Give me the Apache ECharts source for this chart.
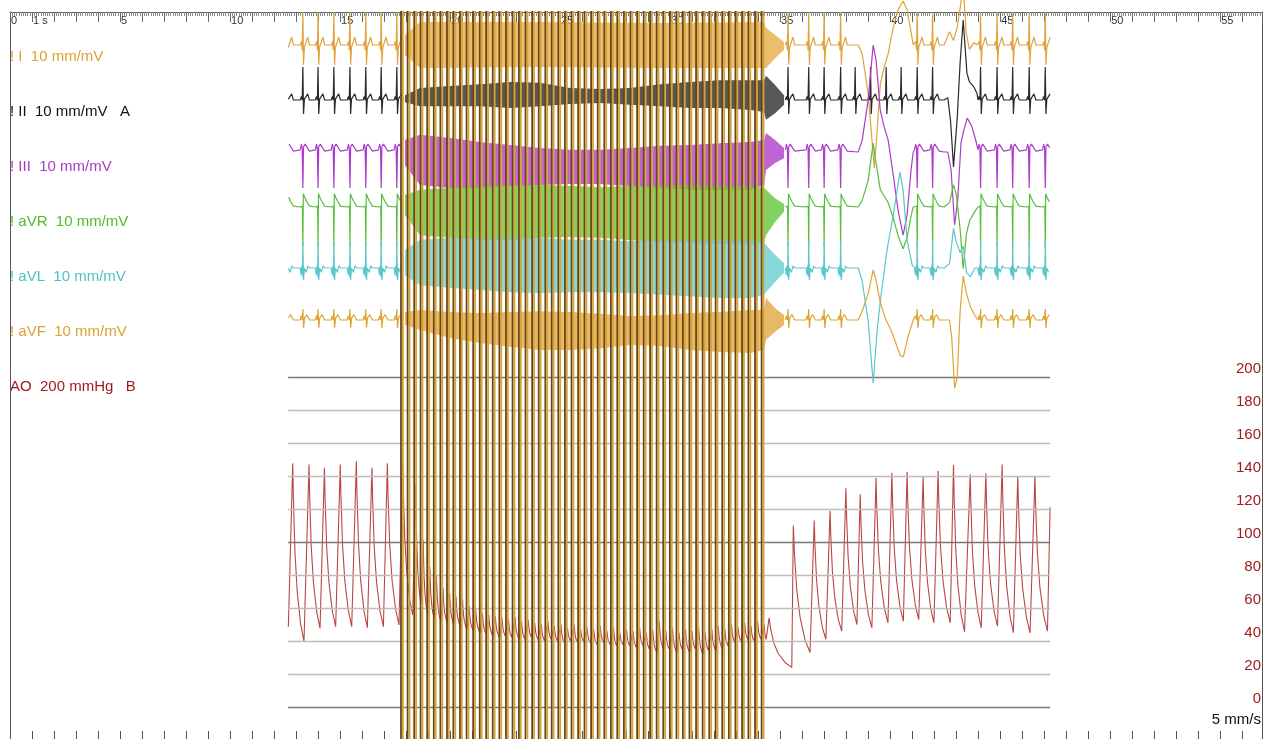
<!DOCTYPE html>
<html><head><meta charset="utf-8"><title>ECG + AO</title>
<script src="https://cdn.jsdelivr.net/npm/echarts@6/dist/echarts.min.js"></script>
<style>html,body{margin:0;padding:0;background:#fff;}#chart{width:1270px;height:739px;}</style>
</head><body><div id="chart"></div>
<script>
// ================= DATA =================
const recStart = 12.64, recEnd = 47.27;          // recorded span (s)
const timeTicks = [0, 1, 5, 10, 15, 20, 25, 30, 35, 40, 45, 50, 55];
const timeTickText = ['0', '1 s', '5', '10', '15', '20', '25', '30', '35', '40', '45', '50', '55'];
const aoTicks = [0, 20, 40, 60, 80, 100, 120, 140, 160, 180, 200];
const aoMajorTicks = [0, 100, 200];
const leadLabels = ['! I  10 mm/mV', '! II  10 mm/mV   A', '! III  10 mm/mV', '! aVR  10 mm/mV', '! aVL  10 mm/mV', '! aVF  10 mm/mV'];
const aoLabel = 'AO  200 mmHg   B';
const speedLabel = '5 mm/s';

// QRS times (s)
const beatsPre = [12.58, 13.31, 14.00, 14.72, 15.45, 16.17, 16.87, 17.58];
const beatsPost = [35.36, 36.30, 37.00, 37.75, 38.41, 39.11, 39.82, 40.50, 41.23, 41.93, 42.61, 43.36, 44.11, 44.86, 45.57, 46.32, 47.05];

// pacing stimulus times (s)
const pacingSpikes = [17.77, 18.07, 18.37, 18.66, 18.96, 19.26, 19.56, 19.86, 20.15, 20.45, 20.75, 21.05, 21.35, 21.64,
  21.94, 22.24, 22.54, 22.84, 23.13, 23.43, 23.73, 24.03, 24.33, 24.62, 24.92, 25.22, 25.52, 25.82, 26.11, 26.41, 26.71,
  27.01, 27.31, 27.60, 27.90, 28.20, 28.50, 28.80, 29.09, 29.39, 29.69, 29.99, 30.29, 30.58, 30.88, 31.18, 31.48, 31.78,
  32.07, 32.37, 32.67, 32.97, 33.27, 33.56, 33.86, 34.16];

// beat templates [dt (s) from QRS, mV]
const tplI   = [[-0.12,0],[-0.06,0.08],[-0.03,-0.12],[0,0.75],[0.03,-0.45],[0.07,-0.05],[0.14,0.05],[0.22,0.18],[0.3,0]];
const tplII  = [[-0.12,0],[-0.07,0.08],[-0.03,0],[0,0.75],[0.03,-0.32],[0.07,0.02],[0.15,0.06],[0.22,0.14],[0.3,0]];
const tplIII = [[-0.12,0.05],[-0.07,0.18],[-0.03,0.08],[0,-0.82],[0.03,0.12],[0.1,0.18],[0.2,0.1],[0.3,0.02]];
const tplAVR = [[-0.12,0],[-0.02,0.02],[0,-0.9],[0.02,0.3],[0.08,0.22],[0.18,0.12],[0.3,0.02]];
const tplAVL = [[-0.12,0],[-0.08,-0.15],[-0.05,0.05],[-0.02,-0.2],[0,0.6],[0.03,-0.28],[0.07,0],[0.15,-0.1],[0.23,0.05],[0.3,0]];
const tplAVF = [[-0.12,0],[-0.07,0.1],[-0.03,0],[0,0.25],[0.03,-0.18],[0.08,0.05],[0.18,0.12],[0.3,0]];

// artefact events [t, mV]
const evAI   = [[38.55,0],[38.73,-0.2],[39.0,-1.1],[39.28,-2.8],[39.4,-2.0],[39.55,-0.9],[39.73,-0.5],[39.91,-0.2],[40.14,0.4],[40.36,0.8],[40.59,1.0],[40.77,0.8],[40.95,0.3],[41.05,0]];
const evBI   = [[42.45,0],[42.7,0.3],[42.88,0.1],[43.05,0.4],[43.2,0.9],[43.32,1.4],[43.45,0.3],[43.6,-0.1],[43.8,0.05],[43.95,0]];
const evAII  = [];
const evBII  = [[42.45,0],[42.62,0.05],[42.75,-0.5],[42.88,-1.52],[43.05,-0.4],[43.18,0.84],[43.32,1.82],[43.49,0.61],[43.6,0.42],[43.8,0.3],[43.95,0.15]];
const evAIII = [[38.55,0],[38.73,0.27],[39.0,1.18],[39.23,2.43],[39.36,2.09],[39.55,0.95],[39.73,0.57],[39.91,0.27],[40.14,-0.52],[40.36,-1.32],[40.59,-1.89],[40.77,-1.43],[40.95,-0.41],[41.05,0]];
const evBIII = [[42.45,0],[42.62,0],[42.77,-0.41],[42.93,-1.66],[43.07,-1.1],[43.22,0.2],[43.35,0.5],[43.5,0.77],[43.7,0.6],[43.9,0.25]];
const evAAVR = [[38.55,0],[38.73,0.15],[39.0,0.6],[39.23,1.45],[39.36,1.0],[39.55,0.4],[39.73,0.25],[39.91,0.1],[40.14,-0.25],[40.36,-0.65],[40.59,-0.95],[40.77,-0.7],[40.95,-0.2],[41.05,0]];
const evBAVR = [[42.45,0],[42.7,0.1],[42.88,0.5],[43.0,0.3],[43.18,-0.5],[43.32,-1.4],[43.47,-0.6],[43.62,-0.3],[43.85,-0.1]];
const evAAVL = [[38.55,0],[38.73,-0.3],[39.0,-1.2],[39.23,-2.61],[39.41,-1.41],[39.59,-0.61],[39.86,0.41],[40.14,1.2],[40.45,2.18],[40.59,1.77],[40.77,0.64],[41.0,0.07]];
const evBAVL = [[42.45,0],[42.7,0.1],[42.88,0.9],[43.0,0.6],[43.18,0.35],[43.32,0.5],[43.47,-0.1],[43.65,-0.2],[43.85,0]];
const evAAVF = [[38.55,0],[38.73,0.2],[39.0,0.6],[39.23,1.14],[39.36,0.9],[39.55,0.4],[39.77,0.05],[40.1,-0.3],[40.45,-0.8],[40.6,-0.84],[40.8,-0.4],[41.05,0]];
const evBAVF = [[42.45,0],[42.7,0],[42.8,-0.4],[42.93,-1.55],[43.05,-1.3],[43.18,0.2],[43.32,1.0],[43.47,0.6],[43.65,0.3],[43.85,0.1]];

// envelope of ECG during pacing and its decay [t, low mV, high mV]
const bandI   = [[17.95,-0.23,0.23],[18.64,-0.52,0.52],[24.09,-0.5,0.52],[29.55,-0.52,0.5],[34.27,-0.52,0.52],[34.36,-0.52,0.39],[34.77,-0.30,0.23],[35.18,-0.11,0.07]];
const bandII  = [[17.95,-0.05,0.11],[18.64,-0.14,0.27],[20.00,-0.14,0.32],[21.36,-0.14,0.36],[22.73,-0.18,0.41],[24.09,-0.14,0.39],[25.45,-0.09,0.27],[26.82,-0.07,0.25],[28.18,-0.11,0.27],[29.55,-0.14,0.36],[30.91,-0.18,0.41],[32.27,-0.18,0.45],[33.64,-0.23,0.45],[34.27,-0.27,0.45],[34.36,-0.45,0.55],[34.77,-0.30,0.34],[35.18,-0.11,0.11]];
const bandIII = [[17.95,-0.30,0.27],[18.64,-0.75,0.39],[20.00,-0.82,0.32],[21.36,-0.82,0.23],[22.73,-0.77,0.16],[24.09,-0.75,0.09],[25.45,-0.73,0.05],[26.82,-0.73,0.05],[28.18,-0.77,0.09],[29.55,-0.82,0.14],[30.91,-0.86,0.16],[32.27,-0.86,0.20],[33.64,-0.86,0.23],[34.27,-0.75,0.27],[34.36,-0.41,0.43],[34.77,-0.25,0.27],[35.18,-0.14,0.09]];
const bandAVR = [[17.95,-0.18,0.27],[18.64,-0.64,0.39],[20.00,-0.70,0.43],[21.36,-0.75,0.48],[22.73,-0.75,0.50],[24.09,-0.70,0.50],[25.45,-0.68,0.48],[26.82,-0.70,0.45],[28.18,-0.75,0.48],[29.55,-0.80,0.50],[30.91,-0.82,0.50],[32.27,-0.84,0.48],[33.64,-0.86,0.48],[34.27,-0.80,0.43],[34.36,-0.64,0.39],[34.77,-0.34,0.20],[35.18,-0.11,0.07]];
const bandAVL = [[17.95,-0.16,0.41],[18.64,-0.39,0.64],[20.00,-0.45,0.68],[21.36,-0.50,0.68],[22.73,-0.55,0.70],[24.09,-0.57,0.68],[25.45,-0.55,0.64],[26.82,-0.55,0.64],[28.18,-0.57,0.61],[29.55,-0.61,0.64],[30.91,-0.64,0.64],[32.27,-0.68,0.64],[33.64,-0.68,0.64],[34.27,-0.61,0.59],[34.36,-0.55,0.52],[34.77,-0.32,0.30],[35.18,-0.11,0.11]];
const bandAVF = [[17.95,-0.11,0.18],[18.64,-0.23,0.23],[20.00,-0.41,0.18],[21.36,-0.52,0.16],[22.73,-0.61,0.18],[24.09,-0.68,0.20],[25.45,-0.68,0.18],[26.82,-0.64,0.14],[28.18,-0.57,0.09],[29.55,-0.59,0.11],[30.91,-0.68,0.16],[32.27,-0.73,0.18],[33.64,-0.75,0.23],[34.27,-0.68,0.23],[34.36,-0.45,0.50],[34.77,-0.27,0.27],[35.18,-0.11,0.11]];

// aortic pressure beats [foot t, foot mmHg, peak t, peak mmHg]
const aoPre = [[12.65,48.7,12.85,147.7],[13.36,39.6,13.59,147],[14.09,47.6,14.29,145],[14.80,48.7,15.01,147],
  [15.53,48.7,15.74,149],[16.24,48,16.45,145],[16.97,48.7,17.15,147.7],[17.68,49.7,17.85,149],[18.30,55.8,18.44,134.5]];
const pacedAoPeak = [null,null,null,101,85,80,72,69,67,65,61,59,57,56,55,54,53,54,52,53,51,50,52,49,50,48,50,47,48,47,49,46,48,
  45,47,46,48,45,47,52,46,48,45,47,46,48,45,47,49,47,50,48,51,49,52,50];
const pacedAoFoot = [null,null,null,62,56,54,52,51,50,49,47,46,45,44,43,42,42,41,41,40,41,40,39,40,39,38,39,38,39,38,37,38,37,
  36,37,36,35,36,34,33,35,34,33,34,33,34,32,33,34,35,36,38,39,40,39,40];
const aoTransition = [[34.40,40,34.50,54]];
const aoPost = [[35.53,24,35.60,110],[36.36,33,36.55,113],[37.08,41,37.27,119],[37.80,46,37.99,132.5],[38.49,50,38.64,129],
  [39.17,48,39.36,139],[39.90,51,40.08,142],[40.60,52,40.77,142.4],[41.30,53,41.50,139.6],[41.99,51,42.18,143],
  [42.73,51,42.88,146.7],[43.38,45.6,43.64,141],[44.14,48,44.35,141.6],[44.88,49,45.09,147],[45.60,45,45.80,140],
  [46.36,45,46.58,140],[47.15,46,47.27,121]];
// shape of the pressure run-off [fraction of time to next foot, fraction of pulse left]
const aoDecayShape = [[0.06,0.8],[0.2,0.5],[0.4,0.28],[0.7,0.1]];

// ================= BUILD =================
const X_MAX = 56.9;
const leads = [
  {tpl: tplI,   ev: [evAI, evBI],     band: bandI,   base: 45,  color: '#E0A33A', bandColor: '#E6AE4A', label: '#DDA032'},
  {tpl: tplII,  ev: [evAII, evBII],   band: bandII,  base: 100, color: '#2a2a2a', bandColor: '#2e2e2e', label: '#111111'},
  {tpl: tplIII, ev: [evAIII, evBIII], band: bandIII, base: 152, color: '#AE3CCB', bandColor: '#B03CCB', label: '#A63CC6'},
  {tpl: tplAVR, ev: [evAAVR, evBAVR], band: bandAVR, base: 207, color: '#58BE38', bandColor: '#62C63C', label: '#4FBC2E'},
  {tpl: tplAVL, ev: [evAAVL, evBAVL], band: bandAVL, base: 268, color: '#5EC6CA', bandColor: '#6ACDD0', label: '#4EC0C2'},
  {tpl: tplAVF, ev: [evAAVF, evBAVF], band: bandAVF, base: 320, color: '#E0A33A', bandColor: '#E3A63E', label: '#DDA032'}
];
const labelY = [55, 110, 165, 220, 275, 330];

function buildTrace(tpl, events) {
  const evs = events.filter(e => e.length);
  const wins = evs.map(e => [e[0][0], e[e.length - 1][0]]);
  const seg = beats => {
    const pts = [];
    beats.forEach(b => {
      const s = b + tpl[0][0], e = b + tpl[tpl.length - 1][0];
      if (wins.some(w => e > w[0] && s < w[1])) return;
      tpl.forEach(p => pts.push([b + p[0], p[1]]));
    });
    return pts;
  };
  const pre = seg(beatsPre), post = seg(beatsPost);
  evs.forEach(e => e.forEach(p => post.push(p)));
  post.sort((a, b) => a[0] - b[0]);
  const inRange = p => p[0] >= recStart && p[0] <= recEnd;
  return pre.filter(inRange).concat([[26, null]], post.filter(inRange));
}

function buildAO() {
  const paced = [];
  pacingSpikes.forEach((t, i) => {
    if (pacedAoPeak[i] != null) paced.push([t + 0.02, pacedAoFoot[i], t + 0.12, pacedAoPeak[i]]);
  });
  const all = aoPre.concat(paced, aoTransition, aoPost);
  const pts = [];
  all.forEach((b, k) => {
    pts.push([b[0], b[1]], [b[2], b[3]]);
    const nx = all[k + 1];
    if (nx) aoDecayShape.forEach(s => pts.push([b[2] + s[0] * (nx[0] - b[2]), nx[1] + s[1] * (b[3] - nx[1])]));
  });
  return pts;
}

const FONT = '"Liberation Sans", Arial, sans-serif';
const grids = [], xAxes = [], yAxes = [], series = [];
const hiddenX = gi => ({gridIndex: gi, type: 'value', min: 0, max: X_MAX, show: false});

// grid 0 : frame, time axes, pacing spikes
grids.push({left: 10, right: 8, top: 12, bottom: 0, containLabel: false});
xAxes.push({
  gridIndex: 0, type: 'value', position: 'top', min: 0, max: X_MAX, interval: 1,
  axisLine: {show: true, onZero: false, lineStyle: {color: '#555', width: 1}},
  axisTick: {show: true, inside: true, length: 10, lineStyle: {color: '#666'}},
  minorTick: {show: true, splitNumber: 10, length: 4, lineStyle: {color: '#888'}},
  splitLine: {show: false},
  axisLabel: {
    show: true, inside: true, margin: 3, align: 'left', padding: [0, 0, 0, 1],
    color: '#333', fontSize: 11, fontFamily: FONT,
    formatter: v => { const i = timeTicks.indexOf(v); return i >= 0 ? timeTickText[i] : ''; }
  }
});
xAxes.push({
  gridIndex: 0, type: 'value', position: 'bottom', min: 0, max: X_MAX, interval: 1,
  axisLine: {show: false, onZero: false},
  axisTick: {show: true, inside: true, length: 8, lineStyle: {color: '#555'}},
  axisLabel: {show: false}, splitLine: {show: false}
});
yAxes.push({gridIndex: 0, type: 'value', min: 0, max: 1, position: 'left',
  axisLine: {show: true, onZero: false, lineStyle: {color: '#555'}}, axisTick: {show: false}, axisLabel: {show: false}, splitLine: {show: false}});
yAxes.push({gridIndex: 0, type: 'value', min: 0, max: 1, position: 'right',
  axisLine: {show: true, onZero: false, lineStyle: {color: '#555'}}, axisTick: {show: false}, axisLabel: {show: false}, splitLine: {show: false}});

// grid 1 : aortic pressure
grids.push({left: 10, right: 8, top: 377, height: 330});
xAxes.push(hiddenX(1));
yAxes.push({gridIndex: 1, type: 'value', min: 0, max: 200, interval: 20, position: 'right',
  axisLine: {show: false}, axisTick: {show: false}, splitLine: {show: false},
  axisLabel: {show: true, inside: true, margin: 1, color: '#A01C1C', fontSize: 15, fontFamily: FONT, verticalAlign: 'bottom', lineHeight: 16}});

// grids 2..7 : ECG leads
leads.forEach((ld, i) => {
  grids.push({left: 10, right: 8, top: ld.base - 44, height: 88});
  xAxes.push(hiddenX(2 + i));
  yAxes.push({gridIndex: 2 + i, type: 'value', min: -1, max: 1, show: false});
});

// AO gridlines + trace
series.push({
  type: 'line', xAxisIndex: 2, yAxisIndex: 2, data: buildAO(), showSymbol: false, symbol: 'none',
  lineStyle: {color: '#BA4644', width: 1.1}, silent: true, animation: false, z: 3, clip: false,
  markLine: {
    silent: true, symbol: ['none', 'none'], label: {show: false}, animation: false,
    data: aoTicks.map(v => [
      {coord: [recStart, v], lineStyle: {color: aoMajorTicks.includes(v) ? '#777' : '#bdbdbd', width: 1.3, type: 'solid'}},
      {coord: [recEnd, v]}
    ])
  }
});

// ECG bands (custom polygons through the axes)
leads.forEach((ld, i) => {
  const band = ld.band;
  series.push({
    type: 'custom', xAxisIndex: 3 + i, yAxisIndex: 3 + i, clip: false, silent: true, animation: false, z: 4,
    data: [[band[0][0], band[0][1]]], encode: {x: 0, y: 1},
    renderItem: (params, api) => {
      const up = band.map(p => api.coord([p[0], p[2]]));
      const lo = band.slice().reverse().map(p => api.coord([p[0], p[1]]));
      return {type: 'polygon', shape: {points: up.concat(lo)}, style: {fill: ld.bandColor, opacity: 0.8}};
    }
  });
});

// ECG traces
leads.forEach((ld, i) => {
  series.push({
    type: 'line', xAxisIndex: 3 + i, yAxisIndex: 3 + i, data: buildTrace(ld.tpl, ld.ev),
    showSymbol: false, symbol: 'none', connectNulls: false, clip: false, silent: true, animation: false, z: 5,
    lineStyle: {color: ld.color, width: 1.2}
  });
});

// pacing spikes
series.push({
  type: 'custom', xAxisIndex: 0, yAxisIndex: 0, clip: false, silent: true, animation: false, z: 10,
  data: pacingSpikes.map(t => [t, 0]), encode: {x: 0, y: 1},
  renderItem: (params, api) => {
    const t = api.value(0);
    const top = api.coord([t, 1]), bot = api.coord([t, 0]);
    return {type: 'group', children: [
      {type: 'line', shape: {x1: top[0], y1: top[1] - 1, x2: bot[0], y2: bot[1]}, style: {stroke: '#6a4617', lineWidth: 1.8}},
      {type: 'line', shape: {x1: top[0] + 1.9, y1: top[1] - 1, x2: bot[0] + 1.9, y2: bot[1]}, style: {stroke: '#D6A43C', lineWidth: 1.8}}
    ]};
  }
});

const graphic = leadLabels.map((txt, i) => ({
  type: 'text', left: 10, top: labelY[i] - 6, silent: true,
  style: {text: txt, fill: leads[i].label, font: '15px ' + FONT}
}));
graphic.push({type: 'text', left: 10, top: 379, silent: true, style: {text: aoLabel, fill: '#A01C1C', font: '15px ' + FONT}});
graphic.push({type: 'text', right: 9, top: 712, silent: true, style: {text: speedLabel, fill: '#111', font: '15px ' + FONT}});

const chart = echarts.init(document.getElementById('chart'), null, {renderer: 'canvas'});
chart.setOption({
  animation: false, backgroundColor: '#ffffff',
  grid: grids, xAxis: xAxes, yAxis: yAxes, series: series, graphic: graphic
});
</script></body></html>
